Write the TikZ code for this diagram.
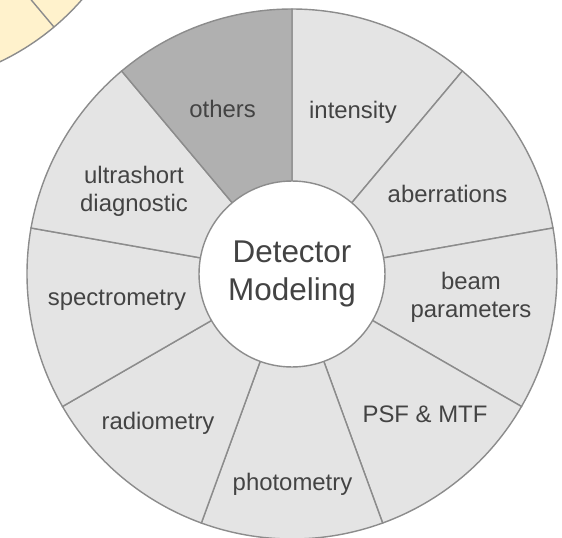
\documentclass[tikz,border=0pt]{standalone}
\usepackage{fontspec}
\setmainfont{Liberation Sans}
\begin{document}
\begin{tikzpicture}[
  x=0.02cm, y=0.02cm,
  every node/.style={inner sep=0pt},
  wedgelabel/.style={text=ink, align=center, font=\fontsize{13.6}{15.9}\selectfont},
]

\definecolor{wedge}{HTML}{E4E4E4}
\definecolor{wedgedark}{HTML}{B0B0B0}
\definecolor{rim}{HTML}{8C8C8C}
\definecolor{pale}{HTML}{FFF2CC}
\definecolor{ink}{HTML}{434343}

\def\R{265}    % outer radius
\def\lw{0.8pt} % rim width

\useasboundingbox (-292,-264) rectangle (270,274);
\clip (-292,-264) rectangle (270,274);

% neighbouring wheel, cut by the frame
\filldraw[fill=pale, draw=rim, line width=\lw] (-400,440) circle (252);
\draw[rim, line width=\lw] (-400,440) -- ++(-50:252);

\def\wedges{%
  {intensity}/50/61/162.1/wedge,
  {aberrations}/10/155.5/79.6/wedge,
  {beam\\parameters}/-30/179/-23/wedge,
  {PSF \& MTF}/-70/133/-140.4/wedge,
  {photometry}/-110/0.5/-209.9/wedge,
  {radiometry}/-150/-134/-149/wedge,
  {spectrometry}/170/-175/-26.5/wedge,
  {ultrashort\\diagnostic}/130/-158/83.1/wedge,
  {others}/90/-69.4/164.6/wedgedark%
}

\foreach \name/\a/\dx/\dy/\col [count=\i] in \wedges {
  \filldraw[fill=\col, draw=rim, line width=\lw]
    (0,0) -- (\a:\R) arc[start angle=\a, end angle=\a+40, radius=\R] -- cycle;
  \node[wedgelabel] (seg\i) at (\dx,\dy) {\name};
}

% hub
\node[circle, draw=rim, fill=white, line width=\lw, minimum size=3.72cm,
  text=ink, align=center, font=\fontsize{17.9}{22.1}\selectfont]
  (hub) at (0,0) {Detector\\Modeling};

\end{tikzpicture}
\end{document}
